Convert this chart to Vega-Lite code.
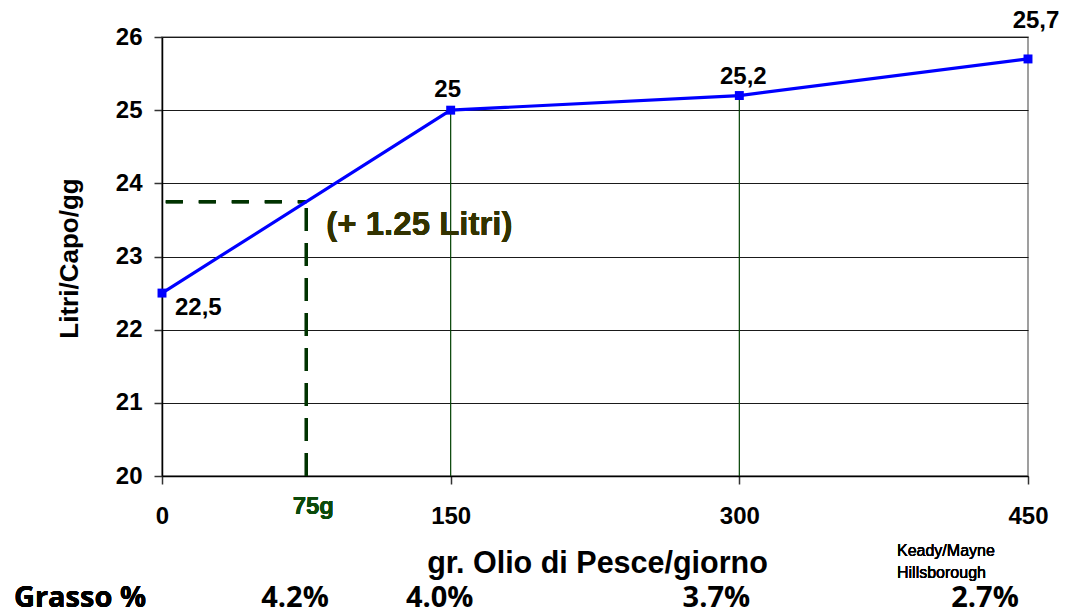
{
  "$schema": "https://vega.github.io/schema/vega-lite/v6.json",
  "width": 866,
  "height": 439,
  "autosize": "none",
  "padding": {"left": 162, "top": 37, "right": 41, "bottom": 139},
  "background": "white",
  "config": {
    "view": {"stroke": "#808080", "strokeWidth": 1.5},
    "font": "Liberation Sans"
  },
  "data": {
    "values": [
      {"grammi": 0, "litri": 22.5, "etichetta": "22,5", "grasso": "4.2%"},
      {"grammi": 150, "litri": 25, "etichetta": "25", "grasso": "4.0%"},
      {"grammi": 300, "litri": 25.2, "etichetta": "25,2", "grasso": "3.7%"},
      {"grammi": 450, "litri": 25.7, "etichetta": "25,7", "grasso": "2.7%"}
    ]
  },
  "encoding": {
    "x": {
      "field": "grammi", "type": "quantitative",
      "scale": {"domain": [0, 450], "nice": false, "zero": false},
      "axis": {
        "values": [0, 150, 300, 450],
        "grid": false,
        "title": "gr. Olio di Pesce/giorno",
        "titleFont": "Liberation Sans", "titleFontSize": 30.5, "titleFontWeight": "bold", "titleColor": "black",
        "titleX": 435, "titleY": 96, "titleBaseline": "alphabetic",
        "labelFont": "Liberation Sans", "labelFontSize": 24, "labelFontWeight": "bold", "labelColor": "black",
        "labelPadding": 20, "labelFlush": false,
        "tickSize": 8, "tickColor": "#333333", "tickWidth": 1.5,
        "domainColor": "black", "domainWidth": 1.5
      }
    },
    "y": {
      "field": "litri", "type": "quantitative",
      "scale": {"domain": [20, 26], "nice": false, "zero": false},
      "axis": {
        "values": [20, 21, 22, 23, 24, 25, 26],
        "grid": true, "gridColor": "#1a1a1a", "gridWidth": 1.2,
        "title": "Litri/Capo/gg",
        "titleFont": "Liberation Sans", "titleFontSize": 26, "titleFontWeight": "bold", "titleColor": "black",
        "titleX": -80, "titleY": 221,
        "labelFont": "Liberation Sans", "labelFontSize": 24, "labelFontWeight": "bold", "labelColor": "black",
        "labelPadding": 12, "labelFlush": false,
        "tickSize": 8, "tickColor": "#333333", "tickWidth": 1.5,
        "domainColor": "black", "domainWidth": 1.5
      }
    }
  },
  "layer": [
    {
      "transform": [{"filter": "datum.grammi == 150 || datum.grammi == 300"}],
      "mark": {"type": "rule", "color": "#004000", "strokeWidth": 1.2},
      "encoding": {"y": {"datum": 20}, "y2": {"field": "litri"}}
    },
    {
      "mark": {"type": "rule", "color": "#003300", "strokeWidth": 3, "strokeDash": [23, 12]},
      "encoding": {"x": {"datum": 75}, "y": {"datum": 20}, "y2": {"datum": 23.75}}
    },
    {
      "mark": {"type": "rule", "color": "#003300", "strokeWidth": 3, "strokeDash": [17, 16]},
      "encoding": {"x": {"datum": 2}, "x2": {"datum": 75}, "y": {"datum": 23.75}}
    },
    {
      "mark": {"type": "line", "color": "#0000ff", "strokeWidth": 3.2}
    },
    {
      "mark": {"type": "square", "color": "#0000ff", "size": 80, "opacity": 1, "filled": true}
    },
    {
      "transform": [{"filter": "datum.grammi == 0"}],
      "mark": {"type": "text", "align": "left", "baseline": "middle", "dx": 13, "dy": 15, "fontSize": 24, "fontWeight": "bold", "font": "Liberation Sans", "color": "black"},
      "encoding": {"text": {"field": "etichetta"}}
    },
    {
      "transform": [{"filter": "datum.grammi == 150"}],
      "mark": {"type": "text", "align": "center", "baseline": "middle", "dx": -3, "dy": -20, "fontSize": 24, "fontWeight": "bold", "font": "Liberation Sans", "color": "black"},
      "encoding": {"text": {"field": "etichetta"}}
    },
    {
      "transform": [{"filter": "datum.grammi == 300"}],
      "mark": {"type": "text", "align": "center", "baseline": "middle", "dx": 4, "dy": -19, "fontSize": 24, "fontWeight": "bold", "font": "Liberation Sans", "color": "black"},
      "encoding": {"text": {"field": "etichetta"}}
    },
    {
      "transform": [{"filter": "datum.grammi == 450"}],
      "mark": {"type": "text", "align": "center", "baseline": "middle", "dx": 8, "dy": -38, "fontSize": 24, "fontWeight": "bold", "font": "Liberation Sans", "color": "black"},
      "encoding": {"text": {"field": "etichetta"}}
    },
    {
      "mark": {"type": "text", "align": "left", "baseline": "middle", "dx": 20, "dy": 23, "fontSize": 33, "fontWeight": "bold", "font": "Liberation Sans", "color": "#333300"},
      "encoding": {"x": {"datum": 75}, "y": {"datum": 23.75}, "text": {"value": "(+ 1.25 Litri)"}}
    },
    {
      "mark": {"type": "text", "align": "center", "baseline": "middle", "dx": 7, "dy": 31, "fontSize": 24, "fontWeight": "bold", "font": "Liberation Sans", "color": "#0b4a0b"},
      "encoding": {"x": {"datum": 75}, "y": {"datum": 20}, "text": {"value": "75g"}}
    },
    {
      "mark": {"type": "text", "align": "left", "baseline": "alphabetic", "dx": -131, "dy": 80, "fontSize": 16, "font": "Liberation Sans", "color": "black", "lineHeight": 22},
      "encoding": {"x": {"datum": 450}, "y": {"datum": 20}, "text": {"value": ["Keady/Mayne", "Hillsborough"]}}
    },
    {
      "mark": {"type": "text", "align": "center", "baseline": "middle", "dx": -82, "dy": 122, "fontSize": 29, "fontWeight": "bold", "font": "Open Sans", "color": "black"},
      "encoding": {"x": {"datum": 0}, "y": {"datum": 20}, "text": {"value": "Grasso %"}}
    },
    {
      "transform": [{"filter": "datum.grammi == 0"}],
      "mark": {"type": "text", "align": "center", "baseline": "middle", "dx": 133, "dy": 122, "fontSize": 29, "fontWeight": "bold", "font": "Open Sans", "color": "black"},
      "encoding": {"y": {"datum": 20}, "text": {"field": "grasso"}}
    },
    {
      "transform": [{"filter": "datum.grammi == 150"}],
      "mark": {"type": "text", "align": "center", "baseline": "middle", "dx": -11, "dy": 122, "fontSize": 29, "fontWeight": "bold", "font": "Open Sans", "color": "black"},
      "encoding": {"y": {"datum": 20}, "text": {"field": "grasso"}}
    },
    {
      "transform": [{"filter": "datum.grammi == 300"}],
      "mark": {"type": "text", "align": "center", "baseline": "middle", "dx": -23, "dy": 122, "fontSize": 29, "fontWeight": "bold", "font": "Open Sans", "color": "black"},
      "encoding": {"y": {"datum": 20}, "text": {"field": "grasso"}}
    },
    {
      "transform": [{"filter": "datum.grammi == 450"}],
      "mark": {"type": "text", "align": "center", "baseline": "middle", "dx": -43, "dy": 122, "fontSize": 29, "fontWeight": "bold", "font": "Open Sans", "color": "black"},
      "encoding": {"y": {"datum": 20}, "text": {"field": "grasso"}}
    }
  ]
}
